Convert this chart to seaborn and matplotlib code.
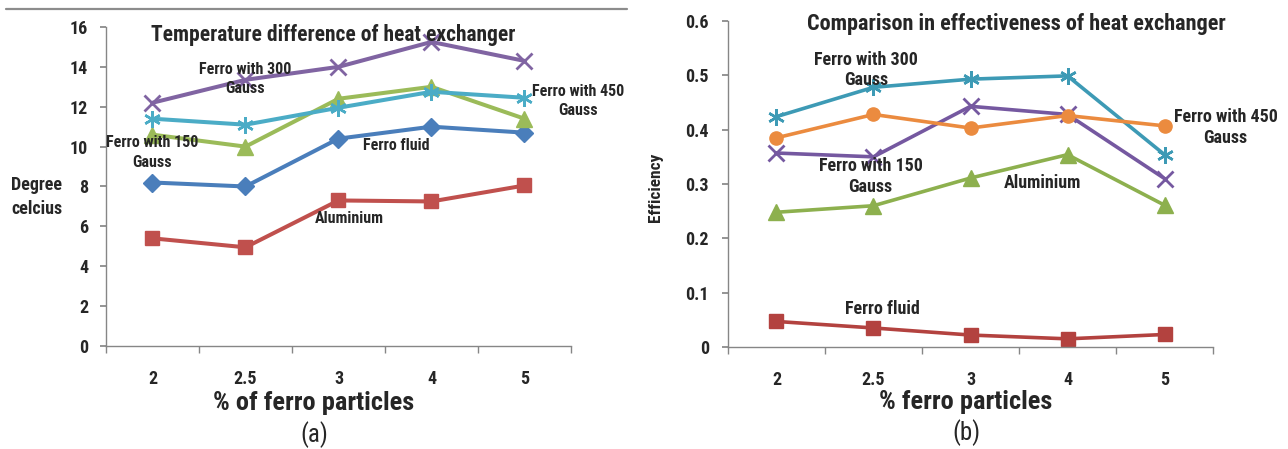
import matplotlib
matplotlib.use("Agg")
import matplotlib.pyplot as plt
import matplotlib.lines as mlines
from matplotlib import font_manager
from matplotlib.ticker import FixedLocator, FuncFormatter
import seaborn as sns

particles = ["2", "2.5", "3", "4", "5"]

# (a) temperature difference, degree celcius
temp_ferro_fluid = [8.2, 8.0, 10.4, 11.0, 10.7]
temp_aluminium = [5.4, 4.95, 7.3, 7.25, 8.05]
temp_ferro_150 = [10.6, 10.0, 12.4, 13.0, 11.4]
temp_ferro_300 = [12.2, 13.35, 14.0, 15.25, 14.3]
temp_ferro_450 = [11.4, 11.1, 11.95, 12.75, 12.45]

# (b) effectiveness
eff_ferro_fluid = [0.047, 0.035, 0.022, 0.015, 0.023]
eff_aluminium = [0.248, 0.26, 0.311, 0.354, 0.261]
eff_ferro_150 = [0.357, 0.350, 0.443, 0.428, 0.310]
eff_ferro_300 = [0.424, 0.478, 0.493, 0.499, 0.354]
eff_ferro_450 = [0.385, 0.428, 0.403, 0.426, 0.407]

AXIS_GREY = "#868686"
STAR = (6, 2, 0)

# a narrow face if one is installed, else plain Liberation Sans
installed = {f.name for f in font_manager.fontManager.ttflist}
narrow = [n for n in ["Liberation Sans Narrow", "Roboto Condensed", "Open Sans Condensed"] if n in installed]

sns.set_theme(style="white")
plt.rcParams["font.family"] = narrow[:1] + ["Liberation Sans", "DejaVu Sans"]
plt.rcParams["font.weight"] = "bold"

fig = plt.figure(figsize=(12.88, 4.49), dpi=100)
ax_a = fig.add_axes([0.0823, 0.2294, 0.361, 0.7105])
ax_b = fig.add_axes([0.5652, 0.2272, 0.3766, 0.726])

pos = list(range(len(particles)))


def draw_series(ax, series, lw):
    for vals, color, marker, ms, mew in series:
        sns.lineplot(x=pos, y=vals, ax=ax, color=color, marker=marker, markersize=ms,
                     markeredgecolor=color, markeredgewidth=mew, linewidth=lw, legend=False)


def style_axes(ax, ymax, ystep, ypad):
    ax.set_xlim(-0.5, len(particles) - 0.5)
    ax.set_ylim(0, ymax)
    ax.xaxis.set_major_locator(FixedLocator(pos))
    ax.set_xticklabels(particles)
    ax.xaxis.set_minor_locator(FixedLocator([p - 0.5 for p in range(len(particles) + 1)]))
    n = int(round(ymax / ystep))
    ax.yaxis.set_major_locator(FixedLocator([i * ystep for i in range(n + 1)]))
    ax.yaxis.set_major_formatter(FuncFormatter(lambda v, _: f"{round(v, 3):g}"))
    for s in ["top", "right"]:
        ax.spines[s].set_visible(False)
    for s in ["left", "bottom"]:
        ax.spines[s].set_color(AXIS_GREY)
        ax.spines[s].set_linewidth(1.0)
    ax.tick_params(axis="x", which="major", length=0, pad=17, labelsize=13)
    ax.tick_params(axis="x", which="minor", length=5, color=AXIS_GREY, direction="out", bottom=True)
    ax.tick_params(axis="y", which="major", length=4.3, color=AXIS_GREY, direction="out", left=True,
                   pad=ypad, labelsize=13)
    for t in ax.get_xticklabels() + ax.get_yticklabels():
        t.set_fontweight("bold")


# ---- (a) ----
draw_series(ax_a, [
    (temp_ferro_fluid, "#4A7EBB", "D", 9, 1),
    (temp_aluminium, "#C0504D", "s", 10, 1),
    (temp_ferro_150, "#9BBB59", "^", 11, 1),
    (temp_ferro_300, "#8064A2", "x", 11, 2),
    (temp_ferro_450, "#4BACC6", STAR, 12, 1.8),
], lw=2.9)
style_axes(ax_a, 16, 2, 8.5)
ax_a.text(0.488, 0.975, "Temperature difference of heat exchanger", transform=ax_a.transAxes,
          ha="center", va="center", fontsize=15.5, fontweight="bold")
ann_a = dict(ha="center", va="center", fontsize=11.5, fontweight="bold", multialignment="center", linespacing=1.35)
ax_a.text(1.0, 13.4, "Ferro with 300\nGauss", **ann_a)
ax_a.text(0.0, 9.7, "Ferro with 150\nGauss", **ann_a)
ax_a.text(2.62, 10.05, "Ferro fluid", **ann_a)
ax_a.text(2.12, 6.4, "Aluminium", **ann_a)
ax_a.text(4.58, 12.3, "Ferro with 450\nGauss", **ann_a)
ax_a.set_xlabel("% of ferro particles", fontsize=19, fontweight="bold", va="center")
ax_a.xaxis.set_label_coords(0.447, -0.179)
ax_a.set_ylabel("Degree\ncelcius", rotation=0, ha="left", va="center", fontsize=13,
                fontweight="bold", multialignment="left", linespacing=1.4)
ax_a.yaxis.set_label_coords(-0.204, 0.467)

# ---- (b) ----
draw_series(ax_b, [
    (eff_ferro_fluid, "#B3423F", "s", 10, 1),
    (eff_aluminium, "#8DB04E", "^", 11, 1),
    (eff_ferro_150, "#7558A0", "x", 11, 2),
    (eff_ferro_300, "#3D9AB5", STAR, 12, 1.8),
    (eff_ferro_450, "#EB8B3F", "o", 9.5, 1),
], lw=2.6)
style_axes(ax_b, 0.6, 0.1, 9.4)
ax_b.text(0.594, 0.99, "Comparison in effectiveness of heat exchanger", transform=ax_b.transAxes,
          ha="center", va="center", fontsize=16, fontweight="bold")
ann_b = dict(ann_a, fontsize=13, linespacing=1.2)
ax_b.text(0.92, 0.51, "Ferro with 300\nGauss", **ann_b)
ax_b.text(0.97, 0.314, "Ferro with 150\nGauss", **ann_b)
ax_b.text(2.74, 0.302, "Aluminium", **ann_b)
ax_b.text(1.09, 0.07, "Ferro fluid", **ann_b)
ax_b.text(4.63, 0.404, "Ferro with 450\nGauss", **ann_b)
ax_b.set_xlabel("% ferro particles", fontsize=19, fontweight="bold", va="center")
ax_b.xaxis.set_label_coords(0.491, -0.169)
ax_b.set_ylabel("Efficiency", fontsize=12.5, fontweight="bold")
ax_b.yaxis.set_label_coords(-0.134, 0.49)

fig.text(314 / 1288, 1 - 435 / 449, "(a)", ha="center", va="center", fontsize=18, fontweight="normal")
fig.text(966 / 1288, 1 - 433 / 449, "(b)", ha="center", va="center", fontsize=18, fontweight="normal")

# grey rule across the top of panel (a)
fig.add_artist(mlines.Line2D([6 / 1288, 627 / 1288], [1 - 9 / 449, 1 - 9 / 449], color="#8C8C8C", lw=1.6))

fig.savefig("out.png", dpi=100, facecolor="white")
